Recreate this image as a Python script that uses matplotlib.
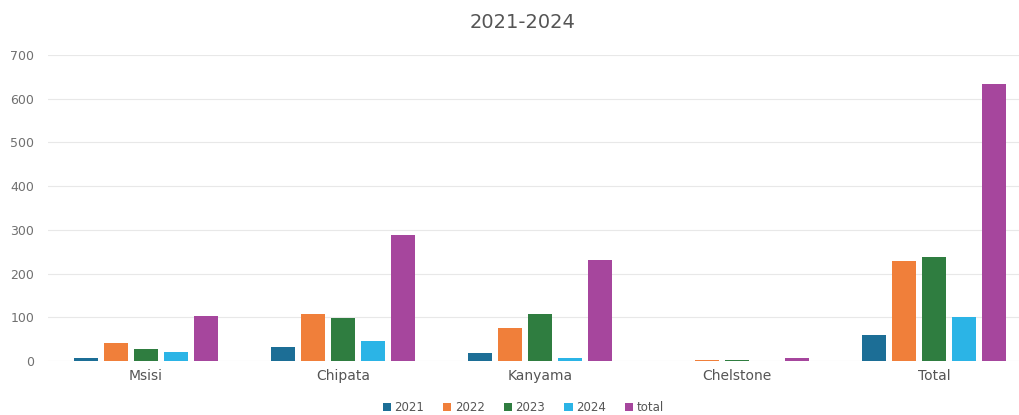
import matplotlib
matplotlib.use("Agg")
import matplotlib.pyplot as plt
import numpy as np

categories = ["Msisi", "Chipata", "Kanyama", "Chelstone", "Total"]
series_names = ["2021", "2022", "2023", "2024", "total"]
v2021 = [7, 32, 18, 0, 60]
v2022 = [41, 107, 75, 2, 229]
v2023 = [28, 98, 107, 2, 237]
v2024 = [21, 46, 8, 1, 101]
vtotal = [104, 288, 231, 8, 633]
colors = ["#1c6e96", "#f07f3a", "#2f7d40", "#2bb4e6", "#a6469d"]
yticks = [0, 100, 200, 300, 400, 500, 600, 700]

fig = plt.figure(figsize=(10.2, 4.15), dpi=100)
ax = fig.add_axes([48/1020, (415-361)/415, (1020-48)/1020, (361-55)/415])

x = np.arange(len(categories))
step = 0.152
width = 0.122
for i, (name, vals) in enumerate(zip(series_names, [v2021, v2022, v2023, v2024, vtotal])):
    ax.bar(x + (i - 2) * step, vals, width=width, color=colors[i], label=name, zorder=3)

ax.set_xlim(-0.497, 4.437)
ax.set_ylim(0, 700)
ax.set_yticks(yticks)
ax.set_xticks(x)
ax.set_xticklabels(categories)
ax.tick_params(axis="y", length=0, labelsize=9, colors="#707070", pad=10)
ax.tick_params(axis="x", length=0, labelsize=10, colors="#555555", pad=6)
for s in ax.spines.values():
    s.set_visible(False)
ax.grid(axis="y", color="#e8e8e8", linewidth=0.8, zorder=0)

fig.text(0.512, 0.945, "2021-2024", ha="center", va="center", fontsize=14, color="#555555")
leg = fig.legend(loc="center", bbox_to_anchor=(0.513, 0.017), ncol=5, frameon=False,
                 fontsize=8.5, handlelength=0.7, handleheight=0.7, handletextpad=0.3,
                 columnspacing=1.6, labelcolor="#555555")

fig.savefig("out.png", dpi=100)
